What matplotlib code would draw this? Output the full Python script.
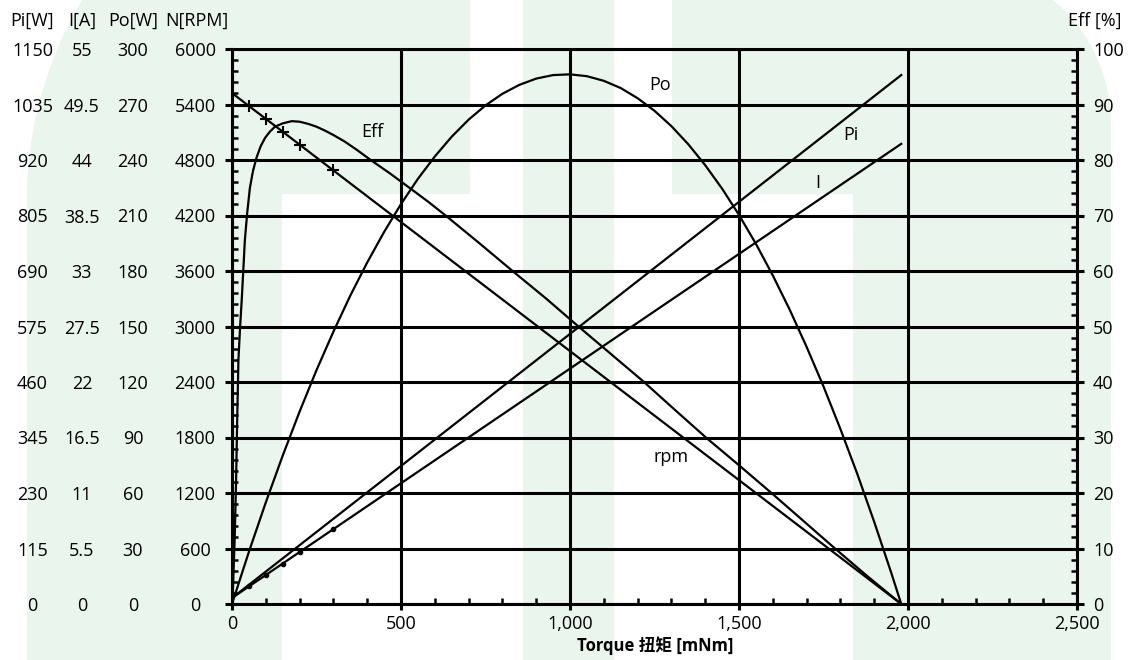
import matplotlib
matplotlib.use('Agg')
import matplotlib.pyplot as plt
from matplotlib.patches import Polygon, Rectangle
import numpy as np

plt.rcParams['font.family'] = ['Open Sans', 'Noto Sans CJK SC', 'DejaVu Sans']

# ---------------- data ----------------
torque_ticks = [0, 500, 1000, 1500, 2000, 2500]
torque_tick_labels = ['0', '500', '1,000', '1,500', '2,000', '2,500']

rpm_ticks = [0, 600, 1200, 1800, 2400, 3000, 3600, 4200, 4800, 5400, 6000]
pi_ticks = [0, 115, 230, 345, 460, 575, 690, 805, 920, 1035, 1150]
i_ticks = [0, 5.5, 11, 16.5, 22, 27.5, 33, 38.5, 44, 49.5, 55]
i_tick_labels = ['0', '5.5', '11', '16.5', '22', '27.5', '33', '38.5', '44', '49.5', '55']
po_ticks = [0, 30, 60, 90, 120, 150, 180, 210, 240, 270, 300]
eff_ticks = [0, 10, 20, 30, 40, 50, 60, 70, 80, 90, 100]

# speed (rpm) - straight line with "+" markers at low torque
rpm_T = [0, 50, 100, 150, 200, 300, 1980]
rpm_N = [5524, 5384, 5245, 5106, 4966, 4687, 0]

# current (A) - straight line with dot markers at low torque
cur_T = [0, 50, 100, 150, 200, 300, 1980]
cur_I = [0.6, 1.74, 2.87, 4.01, 5.15, 7.42, 45.6]

# input power (W)
pin_T = [0, 1980]
pin_P = [12.4, 1096]

# output power (W)
po_T = [0, 50, 100, 150, 200, 250, 300, 350, 400, 450, 500, 550, 600, 650, 700,
        750, 800, 850, 900, 950, 1000, 1050, 1100, 1150, 1200, 1250, 1300, 1350,
        1400, 1450, 1500, 1550, 1600, 1650, 1700, 1750, 1800, 1850, 1900, 1950, 1980]
po_P = [0, 28.2, 54.9, 80.2, 104.0, 126.4, 147.2, 166.7, 184.6, 201.1, 216.2,
        229.8, 241.9, 252.6, 261.8, 269.5, 275.8, 280.6, 284.0, 285.9, 286.3,
        285.3, 282.8, 278.9, 273.4, 266.6, 258.3, 248.5, 237.2, 224.5, 210.3,
        194.7, 177.6, 159.1, 139.0, 117.6, 94.6, 70.3, 44.4, 17.1, 0]

# efficiency (%)
eff_T = [0, 3, 8, 12, 15, 19, 24, 29, 38, 45, 53, 62, 73, 85, 98, 112, 127, 150,
         177, 200, 226, 250, 275, 300, 334, 370, 408, 467, 527, 580, 630, 730, 832,
         930, 1025, 1120, 1217, 1310, 1404, 1500, 1596, 1690, 1784, 1880, 1980]
eff_V = [0, 3, 12, 22, 32, 44, 50, 55, 65.5, 70.5, 75, 78, 80.5, 82.5, 84, 85.1,
         86, 86.6, 87, 86.9, 86.5, 86, 85.3, 84.5, 83.3, 81.8, 80.1, 77.6, 74.9,
         72.5, 70.1, 65.1, 59.9, 55.0, 50, 45.1, 40.1, 35.0, 29.9, 25.0, 20, 15.0,
         10, 5.0, 0]

# ---------------- figure ----------------
W, H = 1129, 660
fig = plt.figure(figsize=(W / 100, H / 100), dpi=100)
fig.patch.set_facecolor('white')

green = '#eaf5ed'

def fp(pts):
    return [(x / W, 1 - y / H) for x, y in pts]

# watermark shapes
ys = np.linspace(200, 0, 40)
RL, cxl, cyl = 391, 27 + 391, 200
arcL = [(cxl - np.sqrt(RL**2 - (cyl - y)**2), y) for y in ys]
left_shape = [(27, 660)] + arcL + [(470, 0), (470, 194), (282, 194), (282, 660)]
ysr = np.linspace(124, 0, 40)
RR, cxr, cyr = 161.5, 1111 - 161.5, 124
arcR = [(cxr + np.sqrt(RR**2 - (cyr - y)**2), y) for y in ysr]
right_shape = [(853, 660), (853, 194), (672, 194), (672, 0)] + arcR[::-1] + [(1111, 660)]
for shp in (left_shape, right_shape):
    fig.patches.append(Polygon(fp(shp), closed=True, transform=fig.transFigure,
                               facecolor=green, edgecolor='none', zorder=-5))
fig.patches.append(Rectangle((523 / W, 0), (614 - 523) / W, 1, transform=fig.transFigure,
                             facecolor=green, edgecolor='none', zorder=-5))

def pt(px_):
    return px_ * 0.72

ax = fig.add_axes([232 / W, 1 - 604 / H, (1077 - 232) / W, (604 - 49) / H])
ax.patch.set_alpha(0)
ax.set_xlim(0, 2500)
ax.set_ylim(0, 6000)
ax.set_axisbelow(True)

ax.set_xticks(torque_ticks)
ax.set_xticklabels(torque_tick_labels)
ax.set_xticks(np.arange(0, 2501, 100), minor=True)
ax.set_yticks(rpm_ticks)
ax.set_yticklabels([str(v) for v in rpm_ticks])
ax.set_yticks(np.arange(0, 6001, 120), minor=True)
ax.grid(True, which='major', color='black', lw=2.2)

ax.tick_params(axis='x', which='major', direction='out', length=4, width=2.2,
               labelsize=13, pad=4)
ax.tick_params(axis='x', which='minor', direction='in', length=4, width=1.8)
ax.tick_params(axis='y', which='major', direction='out', length=5, width=2.2,
               labelsize=13, pad=pt(30), left=True, right=False)
ax.tick_params(axis='y', which='minor', direction='in', length=4, width=1.8,
               left=True, right=False)
for lbl in ax.get_yticklabels():
    lbl.set_horizontalalignment('center')
for s in ax.spines.values():
    s.set_linewidth(2.2)
    s.set_color('black')

lw = 1.6
ax.plot(rpm_T, rpm_N, color='black', lw=lw, marker='+', ms=8, mew=1.5,
        markevery=[1, 2, 3, 4, 5], zorder=3)

# extra scales
def side_axis(ticks, labels, ylim, center_px):
    a = ax.twinx()
    a.set_ylim(*ylim)
    a.patch.set_alpha(0)
    for s in a.spines.values():
        s.set_visible(False)
    a.yaxis.set_ticks_position('left')
    a.set_yticks(ticks)
    a.set_yticklabels(labels)
    a.tick_params(axis='y', length=0, labelsize=13, pad=pt(232 - center_px),
                  labelleft=True, labelright=False, left=False, right=False)
    for lbl in a.get_yticklabels():
        lbl.set_horizontalalignment('center')
    return a

ax_pi = side_axis(pi_ticks, [str(v) for v in pi_ticks], (0, 1150), 32.5)
ax_i = side_axis(i_ticks, i_tick_labels, (0, 55), 82)
ax_po = side_axis(po_ticks, [str(v) for v in po_ticks], (0, 300), 133)

ax_pi.plot(pin_T, pin_P, color='black', lw=lw)
ax_i.plot(cur_T, cur_I, color='black', lw=lw, marker='o', ms=3,
          markevery=[1, 2, 3, 4, 5])
ax_po.plot(po_T, po_P, color='black', lw=lw)

ax_eff = ax.twinx()
ax_eff.patch.set_alpha(0)
ax_eff.set_ylim(0, 100)
for s in ax_eff.spines.values():
    s.set_visible(False)
ax_eff.set_yticks(eff_ticks)
ax_eff.set_yticklabels([str(v) for v in eff_ticks])
ax_eff.set_yticks(np.arange(0, 101, 2), minor=True)
ax_eff.tick_params(axis='y', which='major', direction='out', length=5, width=2.2,
                   labelsize=13, pad=pt(9))
ax_eff.tick_params(axis='y', which='minor', direction='in', length=4, width=1.8)
ax_eff.plot(eff_T, eff_V, color='black', lw=lw)

# curve labels (data coordinates of the rpm axis)
for txt, x, y in [('Po', 1266, 5611), ('Eff', 414, 5100), ('Pi', 1831, 5070),
                  ('I', 1734, 4551), ('rpm', 1300, 1590)]:
    ax.text(x, y, txt, fontsize=13, ha='center', va='center', zorder=6)

# column headers
for txt, x in [('Pi[W]', 32), ('I[A]', 82), ('Po[W]', 133), ('N[RPM]', 197),
               ('Eff [%]', 1095)]:
    fig.text(x / W, 1 - 21 / H, txt, fontsize=13, ha='center', va='center')

fig.text(655 / W, 1 - 646 / H, 'Torque 扭矩 [mNm]', fontsize=12, fontweight='bold',
         ha='center', va='center')

fig.savefig('out.png', dpi=100)
